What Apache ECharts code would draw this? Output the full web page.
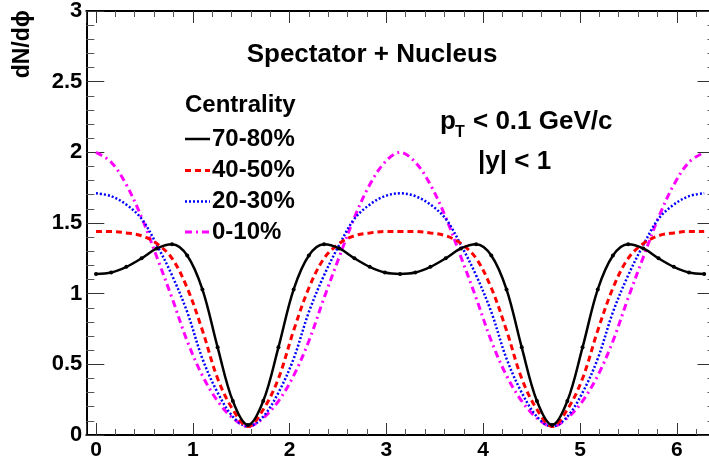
<!DOCTYPE html>
<html>
<head>
<meta charset="utf-8">
<script src="https://cdn.jsdelivr.net/npm/echarts@6/dist/echarts.min.js"></script>
<style>html,body{margin:0;padding:0;background:#fff;}#c{width:709px;height:458px;}</style>
</head>
<body>
<div id="c"></div>
<script>
// phi sampled at k*pi/20
var phi = [0, 0.1571, 0.3142, 0.4712, 0.6283, 0.7854, 0.9425, 1.0996, 1.2566, 1.4137, 1.5708,
  1.7279, 1.885, 2.042, 2.1991, 2.3562, 2.5133, 2.6704, 2.8274, 2.9845, 3.1416,
  3.2987, 3.4558, 3.6128, 3.7699, 3.927, 4.0841, 4.2412, 4.3982, 4.5553, 4.7124,
  4.8695, 5.0265, 5.1836, 5.3407, 5.4978, 5.6549, 5.8119, 5.969, 6.1261, 6.2832];
var names = ['70-80%', '40-50%', '20-30%', '0-10%'];
var c7080 = [1.14,1.15,1.19,1.25,1.32,1.35,1.27,1.03,0.62,0.24,0.07,
  0.24,0.62,1.03,1.27,1.35,1.32,1.25,1.19,1.15,1.14,
  1.15,1.19,1.25,1.32,1.35,1.27,1.03,0.62,0.24,0.07,
  0.24,0.62,1.03,1.27,1.35,1.32,1.25,1.19,1.15,1.14];
var c4050 = [1.44,1.44,1.43,1.41,1.355,1.25,1.04,0.74,0.40,0.18,0.06,
  0.18,0.40,0.74,1.04,1.25,1.355,1.41,1.43,1.44,1.44,
  1.44,1.43,1.41,1.355,1.25,1.04,0.74,0.40,0.18,0.06,
  0.18,0.40,0.74,1.04,1.25,1.355,1.41,1.43,1.44,1.44];
var c2030 = [1.71,1.69,1.63,1.53,1.345,1.13,0.87,0.54,0.30,0.13,0.06,
  0.13,0.30,0.54,0.87,1.13,1.345,1.53,1.63,1.69,1.71,
  1.69,1.63,1.53,1.345,1.13,0.87,0.54,0.30,0.13,0.06,
  0.13,0.30,0.54,0.87,1.13,1.345,1.53,1.63,1.69,1.71];
var c0010 = [2.00,1.93,1.77,1.54,1.26,0.97,0.665,0.42,0.24,0.12,0.06,
  0.12,0.24,0.42,0.665,0.97,1.26,1.54,1.77,1.93,2.00,
  1.93,1.77,1.54,1.26,0.97,0.665,0.42,0.24,0.12,0.06,
  0.12,0.24,0.42,0.665,0.97,1.26,1.54,1.77,1.93,2.00];
var values = [c7080, c4050, c2030, c0010];
var colors = ['#000000', '#ff0000', '#0000ff', '#ff00ff'];
var dashes = ['solid', [6, 4], [2, 2], [7, 4, 2, 4]];
var widths = [2.5, 3, 2.5, 3];

var FONT = '"Liberation Sans", Arial, sans-serif';
var chart = echarts.init(document.getElementById('c'), null, {renderer: 'canvas'});

function xAx(pos, show) {
  return {
    type: 'value', position: pos, min: -0.1, max: 6.4,
    axisLine: {show: true, onZero: false, lineStyle: {color: '#000', width: 2}},
    axisTick: {show: true, inside: true, length: 12, lineStyle: {color: '#333', width: 1}},
    minorTick: {show: true, splitNumber: 5, length: 6, lineStyle: {color: '#555', width: 1}},
    splitLine: {show: false}, minorSplitLine: {show: false},
    axisLabel: {show: show, margin: 5, color: '#000', fontFamily: FONT, fontWeight: 'bold', fontSize: 21,
      formatter: function (v) { return (Math.abs(v - Math.round(v)) < 1e-6) ? String(Math.round(v)) : ''; }}
  };
}
function yAx(pos, show) {
  return {
    type: 'value', position: pos, min: 0, max: 3, interval: 0.5,
    axisLine: {show: true, onZero: false, lineStyle: {color: '#000', width: 2}},
    axisTick: {show: true, inside: true, length: 18, lineStyle: {color: '#333', width: 1}},
    minorTick: {show: true, splitNumber: 5, length: 8, lineStyle: {color: '#555', width: 1}},
    splitLine: {show: false}, minorSplitLine: {show: false},
    axisLabel: {show: show, margin: 4, color: '#000', fontFamily: FONT, fontWeight: 'bold', fontSize: 22}
  };
}

var series = names.map(function (n, i) {
  return {
    name: n, type: 'line', xAxisIndex: 0, yAxisIndex: 0,
    data: phi.map(function (p, j) { return [p, values[i][j]]; }),
    smooth: 0.35,
    showSymbol: i === 0, symbol: i === 0 ? 'circle' : 'none', symbolSize: 4,
    itemStyle: {color: colors[i]},
    lineStyle: {color: colors[i], width: widths[i], type: dashes[i]},
    z: 10 - i, animation: false
  };
});

var graphics = [
  {type: 'text', x: 23, y: 10, rotation: Math.PI / 2,
   style: {text: 'dN/d\u03d5', font: 'bold 23px ' + FONT, fill: '#000', align: 'right', verticalAlign: 'middle'}},
  {type: 'text', x: 372, y: 55,
   style: {text: 'Spectator + Nucleus', font: 'bold 26px ' + FONT, fill: '#000', align: 'center', verticalAlign: 'middle'}},
  {type: 'text', x: 185, y: 105,
   style: {text: 'Centrality', font: 'bold 24px ' + FONT, fill: '#000', align: 'left', verticalAlign: 'middle'}},
  {type: 'text', x: 440, y: 122,
   style: {text: 'p', font: 'bold 26px ' + FONT, fill: '#000', align: 'left', verticalAlign: 'middle'}},
  {type: 'text', x: 455, y: 133,
   style: {text: 'T', font: 'bold 16px ' + FONT, fill: '#000', align: 'left', verticalAlign: 'middle'}},
  {type: 'text', x: 473, y: 122,
   style: {text: '< 0.1 GeV/c', font: 'bold 26px ' + FONT, fill: '#000', align: 'left', verticalAlign: 'middle'}},
  {type: 'text', x: 478, y: 162,
   style: {text: '|y| < 1', font: 'bold 26px ' + FONT, fill: '#000', align: 'left', verticalAlign: 'middle'}}
];
var rowY = [139, 170.5, 201.5, 232];
names.forEach(function (n, i) {
  graphics.push({type: 'line', shape: {x1: 185, y1: rowY[i], x2: 210, y2: rowY[i]},
    style: {stroke: colors[i], lineWidth: widths[i], lineDash: dashes[i] === 'solid' ? null : dashes[i]}});
  graphics.push({type: 'text', x: 212, y: rowY[i],
    style: {text: n, font: 'bold 24px ' + FONT, fill: '#000', align: 'left', verticalAlign: 'middle'}});
});

chart.setOption({
  backgroundColor: '#fff',
  animation: false,
  grid: {left: 86.3, top: 11, width: 629.2, height: 424, containLabel: false, outerBoundsMode: 'none'},
  xAxis: [xAx('bottom', true), xAx('top', false)],
  yAxis: [yAx('left', true), yAx('right', false)],
  series: series,
  graphic: graphics
});
</script>
</body>
</html>
